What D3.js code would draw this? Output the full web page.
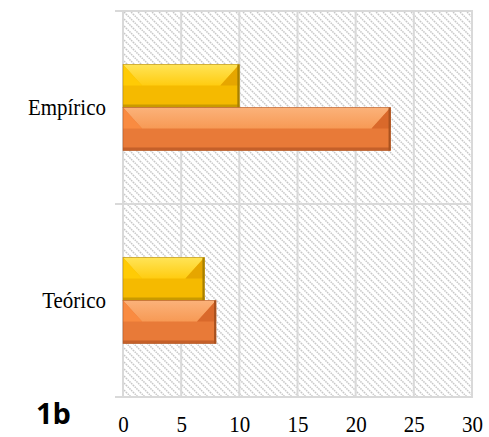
<!DOCTYPE html>
<html>
<head>
<meta charset="utf-8">
<script src="https://cdn.jsdelivr.net/npm/d3@7/dist/d3.min.js"></script>
<style>
  html, body { margin: 0; padding: 0; background: #fff; }
  svg { display: block; }
  svg text.serif { font-family: "Times New Roman", "Liberation Serif", Tinos, Times, "Noto Serif", "DejaVu Serif", serif; }
  svg text.panel { font-family: "Open Sans", "Liberation Sans", sans-serif; font-weight: bold; }
</style>
</head>
<body>
<svg id="chart" width="489" height="437"></svg>
<script>
// Categories (top to bottom) and the two series drawn in each group
const categories = ["Empírico", "Teórico"];
const seriesNames = ["Serie amarilla", "Serie naranja"];
const yellowValues = [10, 7];
const orangeValues = [23, 8];
const xTicks = [0, 5, 10, 15, 20, 25, 30];
const panelLabel = "1b";

const svg = d3.select("#chart");
const plot = { left: 123, right: 472, top: 11, bottom: 397 };

const x = d3.scaleLinear().domain([0, 30]).range([plot.left, plot.right]);
const y = d3.scaleBand().domain(categories).range([plot.top, plot.bottom]).paddingInner(0);
const ySeries = d3.scaleBand().domain(seriesNames).range([0, y.bandwidth()])
  .paddingInner(0).paddingOuter(1.245);

const defs = svg.append("defs");

// Diagonal hatch fill of the plot area
const hatch = defs.append("pattern")
  .attr("id", "hatch").attr("patternUnits", "userSpaceOnUse")
  .attr("width", 7).attr("height", 7);
hatch.append("path")
  .attr("d", "M0,0 L7,7 M-1,6 L1,8 M6,-1 L8,1")
  .attr("stroke", "#c8c8c8").attr("stroke-width", 1.5)
  .attr("stroke-dasharray", "1.6,0.8");

svg.append("rect")
  .attr("x", plot.left).attr("y", plot.top)
  .attr("width", plot.right - plot.left).attr("height", plot.bottom - plot.top)
  .attr("fill", "url(#hatch)");

// Vertical gridlines
const gridColor = "#d9d9d9";
svg.append("g").selectAll("line").data(xTicks).join("line")
  .attr("x1", d => x(d)).attr("x2", d => x(d))
  .attr("y1", plot.top).attr("y2", plot.bottom)
  .attr("stroke", gridColor).attr("stroke-width", 2);

// Category boundaries with short ticks to the left
const bounds = [plot.top, ...categories.map(c => y(c) + y.bandwidth())];
svg.append("g").selectAll("line").data(bounds).join("line")
  .attr("x1", plot.left - 8).attr("x2", plot.right + 1)
  .attr("y1", d => d).attr("y2", d => d)
  .attr("stroke", gridColor).attr("stroke-width", 2);

// Bevelled bar styles
const styles = {
  "Serie amarilla": {
    topA: "#FFE457", topB: "#FFCC10", base: "#F5BA00", left: "#FFCB05",
    right: "#E6A600", edge: "#A88000", bottom: "#C99A00"
  },
  "Serie naranja": {
    topA: "#FBB27A", topB: "#F79A55", base: "#E87A38", left: "#F98B41",
    right: "#D9692B", edge: "#A9521F", bottom: "#C4602A"
  }
};
Object.entries(styles).forEach(([name, s], i) => {
  const g = defs.append("linearGradient").attr("id", "top" + i)
    .attr("x1", 0).attr("y1", 0).attr("x2", 0).attr("y2", 1);
  g.append("stop").attr("offset", "0%").attr("stop-color", s.topA);
  g.append("stop").attr("offset", "100%").attr("stop-color", s.topB);
  s.grad = "url(#top" + i + ")";
});

const rows = [];
categories.forEach((c, ci) => {
  rows.push({ cat: c, series: seriesNames[0], value: yellowValues[ci] });
  rows.push({ cat: c, series: seriesNames[1], value: orangeValues[ci] });
});

const bars = svg.append("g").selectAll("g").data(rows).join("g");
bars.each(function(d) {
  const g = d3.select(this);
  const s = styles[d.series];
  const x0 = x(0), x1 = x(d.value);
  const y0 = y(d.cat) + ySeries(d.series);
  const h = ySeries.bandwidth();
  const y1 = y0 + h;
  const b = Math.min(19, (x1 - x0) / 2), t = 21;
  const poly = pts => "M" + pts.map(p => p.join(",")).join("L") + "Z";
  g.append("rect").attr("x", x0).attr("y", y0).attr("width", x1 - x0).attr("height", h)
    .attr("fill", s.base);
  g.append("path").attr("d", poly([[x0, y0], [x1, y0], [x1 - b, y0 + t], [x0 + b, y0 + t]]))
    .attr("fill", s.grad);
  g.append("path").attr("d", poly([[x0, y0], [x0 + b, y0 + t], [x0, y0 + t]]))
    .attr("fill", s.left);
  g.append("path").attr("d", poly([[x1, y0], [x1 - b, y0 + t], [x1, y0 + t]]))
    .attr("fill", s.right);
  g.append("rect").attr("x", x0).attr("y", y1 - 3).attr("width", x1 - x0).attr("height", 3)
    .attr("fill", s.bottom);
  g.append("rect").attr("x", x1 - 2).attr("y", y0).attr("width", 2).attr("height", h)
    .attr("fill", s.edge);
  g.append("rect").attr("x", x0).attr("y", y0).attr("width", x1 - x0).attr("height", h)
    .attr("fill", "none").attr("stroke", s.edge).attr("stroke-width", 0.8).attr("stroke-opacity", 0.6);
});

// Category labels
svg.append("g").selectAll("text").data(categories).join("text")
  .attr("class", "serif")
  .attr("transform", d => `translate(106, ${y(d) + y.bandwidth() / 2 + 7}) scale(1, 1.12)`)
  .attr("text-anchor", "end")
  .style("font-size", "21px").attr("fill", "#000")
  .text(d => d);

// Value axis labels
const xAxis = d3.axisBottom(x).tickValues(xTicks).tickSize(0).tickPadding(0);
const ax = svg.append("g").attr("transform", `translate(0, ${plot.bottom})`).call(xAxis);
ax.attr("font-family", null).attr("font-size", null);
ax.select(".domain").remove();
ax.selectAll("text")
  .attr("class", "serif")
  .attr("dy", 0).attr("y", 0)
  .attr("transform", "translate(0, 35) scale(1, 1.12)")
  .style("font-size", "21px").attr("fill", "#000");

// Panel label
svg.append("text")
  .attr("class", "panel")
  .attr("x", 36).attr("y", 424)
  .style("font-size", "29px").attr("fill", "#000")
  .text(panelLabel);
</script>
</body>
</html>
